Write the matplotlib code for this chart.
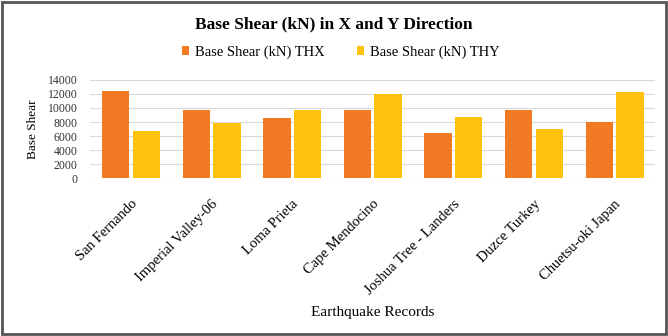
import matplotlib.pyplot as plt
import numpy as np
from matplotlib.patches import Rectangle

records = ["San Fernando", "Imperial Valley-06", "Loma Prieta", "Cape Mendocino",
           "Joshua Tree - Landers", "Duzce Turkey", "Chuetsu-oki Japan"]
shear_thx = [12400, 9700, 8600, 9700, 6400, 9700, 8000]
shear_thy = [6700, 7800, 9700, 12000, 8700, 7000, 12300]

plt.rcParams['font.family'] = ['Liberation Serif', 'DejaVu Serif']

fig = plt.figure(figsize=(6.68, 3.36), dpi=100)
ax = fig.add_axes([0.135, 0.47, 0.845, 0.292])

x = np.arange(len(records))
w = 0.34
ax.bar(x - 0.185, shear_thx, w, color='#F27A24', label='Base Shear (kN) THX', zorder=3)
ax.bar(x + 0.195, shear_thy, w, color='#FFC20E', label='Base Shear (kN) THY', zorder=3)

ax.set_xlim(-0.5, len(records) - 0.5)
ax.set_ylim(0, 14000)
ax.set_yticks(range(0, 14001, 2000))
ax.tick_params(axis='y', labelsize=8.5, length=0, pad=9, colors='#333333')
ax.tick_params(axis='x', length=0, pad=14)
ax.set_xticks(x)
ax.set_xticklabels(records, rotation=45, ha='right', rotation_mode='anchor', fontsize=10.5)
ax.grid(axis='y', color='#d9d9d9', linewidth=0.8, zorder=0)
for s in ax.spines.values():
    s.set_visible(False)

ax.set_ylabel('Base Shear', fontsize=9.5, labelpad=6)
ax.set_xlabel('Earthquake Records', fontsize=11)
ax.xaxis.set_label_coords(0.5, -1.367)
ax.xaxis.label.set_va('center')

fig.text(0.5, 0.926, 'Base Shear (kN) in X and Y Direction', ha='center', va='center',
         fontsize=12.5, fontweight='bold')
fig.legend(loc='center', bbox_to_anchor=(0.51, 0.845), ncol=2, frameon=False, fontsize=10.5,
           handlelength=0.5, handleheight=0.5, handletextpad=0.4, columnspacing=2.2)

fig.patches.append(Rectangle((0.003, 0.006), 0.994, 0.988, transform=fig.transFigure,
                             fill=False, edgecolor='#555555', linewidth=2))

fig.savefig('out.png', dpi=100)
